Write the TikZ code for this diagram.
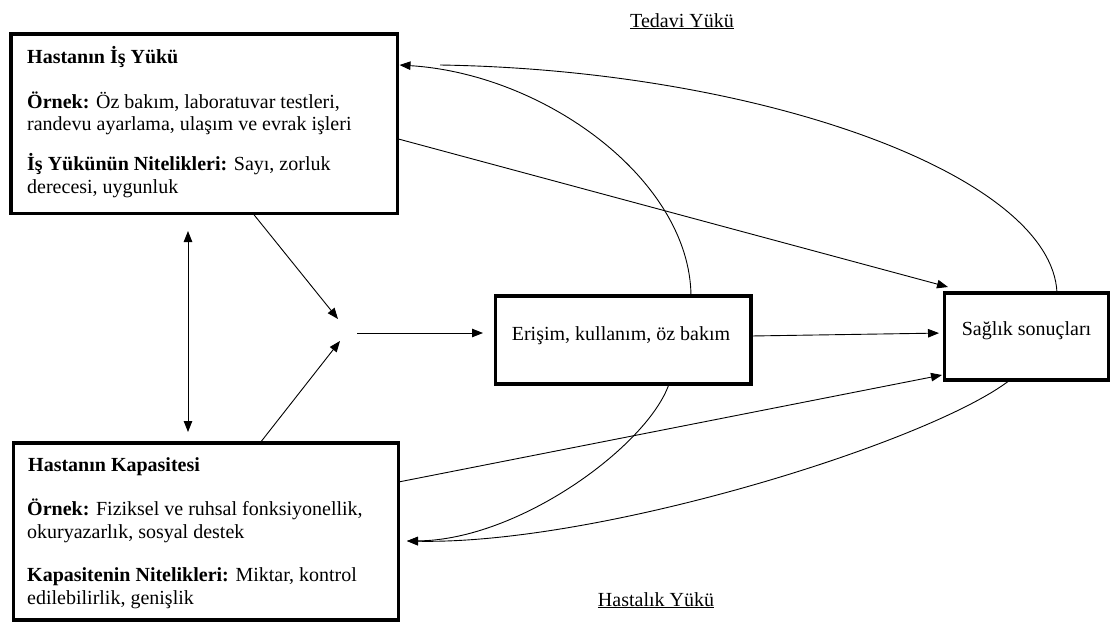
\documentclass[tikz,border=0pt]{standalone}
\usepackage{fontspec}
\setmainfont{Liberation Serif}
\usetikzlibrary{arrows.meta,calc}
\begin{document}
\begin{tikzpicture}[x=1pt,y=-1pt,
  panel/.style={draw=black, line width=3.6pt, rectangle, inner sep=0pt, outer sep=0pt, anchor=north west},
  link/.style={draw=black, line width=0.9pt},
  arr/.style={link, -{Triangle[length=11pt,width=8.5pt]}},
  biarr/.style={link, {Triangle[length=11pt,width=8.5pt]}-{Triangle[length=11pt,width=8.5pt]}},
  txt/.style={anchor=base west, inner sep=0pt, font=\fontsize{20}{22}\selectfont},
  caption/.style={anchor=base, inner sep=0pt, font=\fontsize{20}{22}\selectfont}]
\useasboundingbox (0,0) rectangle (1113,624);

% boxes
\node[panel, minimum width=386.5pt, minimum height=179.5pt] (work) at (11,34) {};
\node[panel, minimum width=385pt, minimum height=177pt] (cap) at (13.5,443) {};
\node[panel, minimum width=255.5pt, minimum height=88pt] (acc) at (495.5,296) {};
\node[panel, minimum width=164pt, minimum height=87pt] (out) at (944.5,293) {};

% patient workload
\node[txt] (w1) at (27,63) {\textbf{Hastanın İş Yükü}};
\node[txt] (w2) at (27,108) {\textbf{Örnek:} Öz bakım, laboratuvar testleri,};
\node[txt] (w3) at (27,130.5) {randevu ayarlama, ulaşım ve evrak işleri};
\node[txt] (w4) at (27,170) {\textbf{İş Yükünün Nitelikleri:} Sayı, zorluk};
\node[txt] (w5) at (27,193) {derecesi, uygunluk};

% patient capacity
\node[txt] (c1) at (28,471.5) {\textbf{Hastanın Kapasitesi}};
\node[txt] (c2) at (27,515.5) {\textbf{Örnek:} Fiziksel ve ruhsal fonksiyonellik,};
\node[txt] (c3) at (27,538) {okuryazarlık, sosyal destek};
\node[txt] (c4) at (27,581.5) {\textbf{Kapasitenin Nitelikleri:} Miktar, kontrol};
\node[txt] (c5) at (27,604) {edilebilirlik, genişlik};

\node[caption] (acct) at (621,340) {Erişim, kullanım, öz bakım};
\node[caption] (outt) at (1026.5,335) {Sağlık sonuçları};

\node[caption] (tedavi) at (682,27) {\underline{Tedavi Yükü}};
\node[caption] (hastalik) at (656,606) {\underline{Hastalık Yükü}};

% junction in front of the access box
\coordinate (hubA) at (338,319);
\coordinate (hubB) at (340,341);
\coordinate (hubC) at (357,333);

\draw[arr] ([xshift=242pt]work.south west) -- (hubA);
\draw[arr] ([xshift=246.5pt]cap.north west) -- (hubB);
\draw[arr, shorten >=12.5pt] (hubC) -- ([yshift=7pt]acc.west);

\draw[biarr] ([xshift=177pt,yshift=-17.5pt]work.south west) -- ([xshift=174.5pt,yshift=11pt]cap.north west);

% straight links to outcomes
\draw[arr] ([yshift=-15pt]work.east) -- ([xshift=3.5pt,yshift=6pt]out.north west);
\draw[arr, shorten >=5.5pt] ([yshift=4pt]acc.east) -- ([yshift=3.5pt]out.west);
\draw[arr] ([yshift=49.5pt]cap.east) -- ([xshift=-2.5pt,yshift=5pt]out.south west);

% treatment burden feedback
\draw[arr] ([xshift=195.5pt]acc.north west) .. controls (690,180) and (545,74) .. ([xshift=2pt,yshift=-31pt]work.north east);
\draw[link] ([xshift=112.5pt]out.north west) .. controls (1052,175) and (760,70) .. ([xshift=42.5pt,yshift=-31pt]work.north east);

% illness burden feedback
\draw[arr] ([xshift=173.5pt]acc.south west) .. controls (648,445) and (520,540) .. ([xshift=8.5pt,yshift=-98pt]cap.north east);
\draw[arr] ([xshift=65.5pt]out.south west) .. controls (930,442) and (600,545) .. ([xshift=8.5pt,yshift=-98pt]cap.north east);
\end{tikzpicture}
\end{document}
